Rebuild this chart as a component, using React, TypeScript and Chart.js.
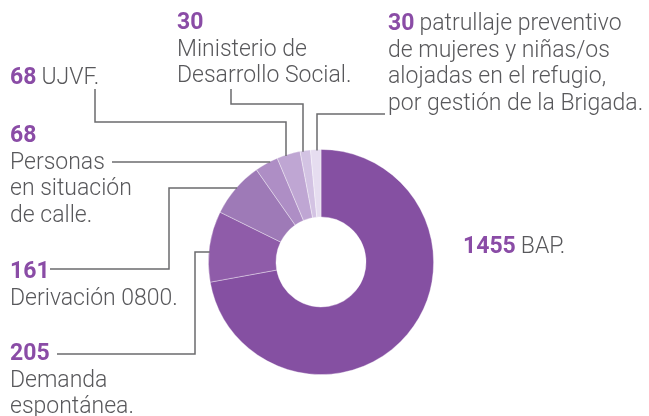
import React, { useEffect, useRef } from "react";
import { Chart, registerables } from "chart.js";

Chart.register(...registerables);

const categories: string[][] = [
  ["BAP."],
  ["Demanda", "espontánea."],
  ["Derivación 0800."],
  ["Personas", "en situación", "de calle."],
  ["UJVF."],
  ["Ministerio de", "Desarrollo Social."],
  ["patrullaje preventivo", "de mujeres y niñas/os", "alojadas en el refugio,", "por gestión de la Brigada."],
];
const values: number[] = [1455, 205, 161, 68, 68, 30, 30];
const sliceColors: string[] = ["#8550a2", "#8f5ca9", "#9e7ab7", "#ae8ec5", "#bfa6d3", "#d3c3e3", "#e6ddf0"];

const NUM_COLOR = "#8a4ca6";
const TEXT_COLOR = "#58585b";
const LINE_COLOR = "#6b6b6e";
const FONT_FAMILY = "Roboto, 'Open Sans', sans-serif";
const FONT_SIZE = 23;
const LINE_H = 26.5;

// layout for labels: x, baseline of number, whether first text line is inline
const labelLayout = [
  { x: 463, y: 253, inline: true },
  { x: 10, y: 360, inline: false },
  { x: 10, y: 278, inline: false },
  { x: 10, y: 142, inline: false },
  { x: 10, y: 84, inline: true },
  { x: 177, y: 29, inline: false },
  { x: 388, y: 30, inline: true },
];

// leader line polylines; final segment runs to the ring ("down" or "right")
const leaders: { idx: number; pts: number[][]; end: "down" | "right" }[] = [
  { idx: 1, pts: [[57, 354], [195, 354], [195, 252]], end: "right" },
  { idx: 2, pts: [[50, 269], [169, 269], [169, 188]], end: "right" },
  { idx: 3, pts: [[112, 162]], end: "right" },
  { idx: 4, pts: [[95, 89], [95, 122], [286, 122]], end: "down" },
  { idx: 5, pts: [[231, 89], [231, 104], [303, 104]], end: "down" },
  { idx: 6, pts: [[385, 114], [317, 114]], end: "down" },
];

const labelPlugin = {
  id: "labelPlugin",
  afterDraw(chart: any) {
    const ctx = chart.ctx as CanvasRenderingContext2D;
    const arc = chart.getDatasetMeta(0).data[0] as any;
    const cx = arc.x, cy = arc.y, r = arc.outerRadius;
    ctx.save();
    // leader lines
    ctx.strokeStyle = LINE_COLOR;
    ctx.lineWidth = 1.5;
    leaders.forEach((l) => {
      ctx.beginPath();
      l.pts.forEach((p, i) => (i === 0 ? ctx.moveTo(p[0], p[1]) : ctx.lineTo(p[0], p[1])));
      const last = l.pts[l.pts.length - 1];
      if (l.end === "down") {
        const dx = last[0] - cx;
        ctx.lineTo(last[0], cy - Math.sqrt(r * r - dx * dx) + 1);
      } else {
        const dy = last[1] - cy;
        ctx.lineTo(cx - Math.sqrt(r * r - dy * dy) + 1, last[1]);
      }
      ctx.stroke();
    });
    // labels
    ctx.textBaseline = "alphabetic";
    ctx.textAlign = "left";
    labelLayout.forEach((lay, i) => {
      const num = String(values[i]);
      ctx.font = `700 ${FONT_SIZE}px ${FONT_FAMILY}`;
      ctx.fillStyle = NUM_COLOR;
      ctx.fillText(num, lay.x, lay.y);
      const numW = ctx.measureText(num).width;
      ctx.font = `300 ${FONT_SIZE}px ${FONT_FAMILY}`;
      ctx.fillStyle = TEXT_COLOR;
      const lines = categories[i];
      let y = lay.y;
      lines.forEach((t, j) => {
        if (j === 0 && lay.inline) {
          ctx.fillText(t, lay.x + numW + 5, y);
        } else {
          y += LINE_H;
          ctx.fillText(t, lay.x, y);
        }
      });
    });
    ctx.restore();
  },
};

export default function App() {
  const ref = useRef<HTMLCanvasElement>(null);
  useEffect(() => {
    document.body.style.margin = "0";
    const chart = new Chart(ref.current!, {
      type: "doughnut",
      data: {
        labels: categories.map((c) => c.join(" ")),
        datasets: [
          {
            data: values,
            backgroundColor: sliceColors,
            borderColor: "rgba(255,255,255,0.45)",
            borderWidth: 0.8,
          },
        ],
      },
      options: {
        responsive: false,
        animation: false,
        cutout: "40%",
        layout: { padding: { top: 149, bottom: 41, left: 208, right: 215 } },
        plugins: { legend: { display: false }, tooltip: { enabled: false } },
      },
      plugins: [labelPlugin],
    });
    return () => chart.destroy();
  }, []);
  return (
    <div style={{ width: 649, height: 416, background: "#fff" }}>
      <canvas ref={ref} width={649} height={416} />
    </div>
  );
}
